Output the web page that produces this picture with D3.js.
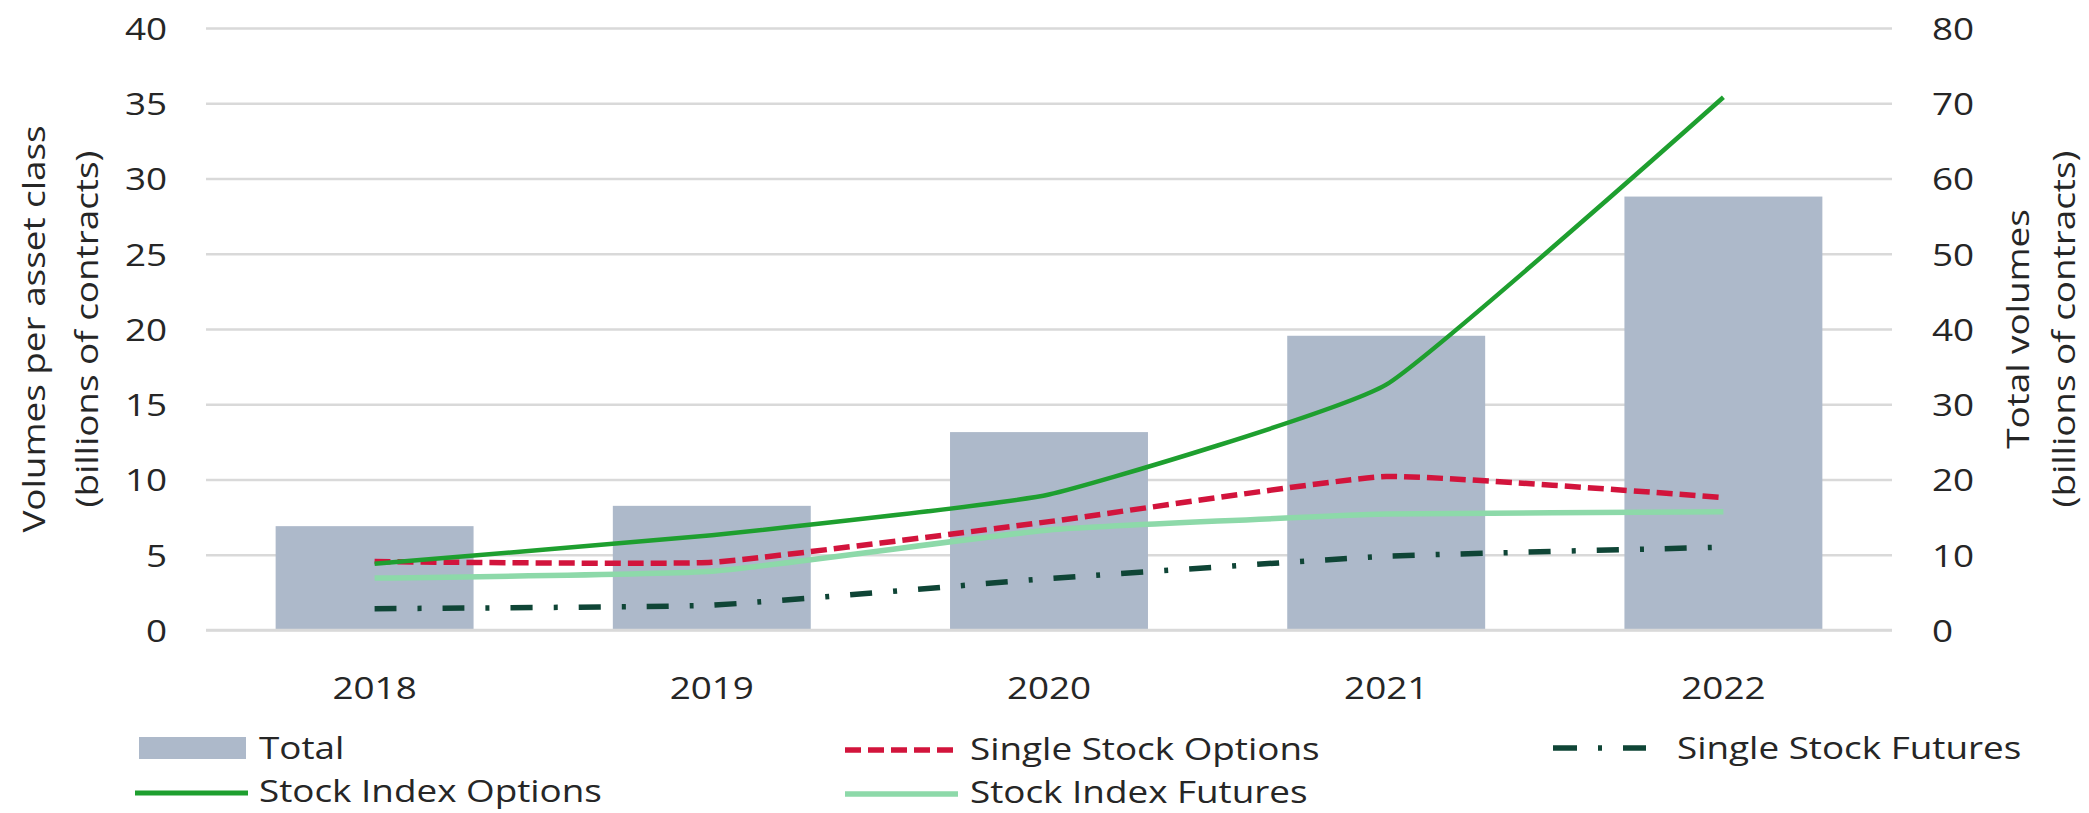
<!DOCTYPE html>
<html>
<head>
<meta charset="utf-8">
<script src="https://cdn.jsdelivr.net/npm/d3@7"></script>
<style>
  html, body { margin: 0; padding: 0; background: #fff; }
  svg text { font-family: "Open Sans", "Noto Sans", sans-serif; fill: #262626; }
</style>
</head>
<body>
<svg id="chart" width="2089" height="813"></svg>
<script>
// ---- data ----
const years = ["2018", "2019", "2020", "2021", "2022"];
const total = [13.8, 16.5, 26.3, 39.1, 57.6];
const singleStockOptions = [4.55, 4.5, 7.2, 10.2, 8.8];
const stockIndexOptions = [4.4, 6.3, 9.0, 16.3, 35.4];
const stockIndexFutures = [3.45, 3.9, 6.65, 7.7, 7.85];
const singleStockFutures = [1.42, 1.65, 3.42, 4.9, 5.5];
const leftTicks = [0, 5, 10, 15, 20, 25, 30, 35, 40];
const rightTicks = [0, 10, 20, 30, 40, 50, 60, 70, 80];
const leftTitle = ["Volumes per asset class", "(billions of contracts)"];
const rightTitle = ["Total volumes", "(billions of contracts)"];
const legendNames = ["Total", "Single Stock Options", "Single Stock Futures", "Stock Index Options", "Stock Index Futures"];

// ---- layout ----
const plot = { left: 206, right: 1892, top: 28, bottom: 630 };
const FS = 31.5;
const colors = {
  bar: "#ADB9CA",
  sio: "#1E9F2F",
  sso: "#D2143C",
  sif: "#8DD9A9",
  ssf: "#0F4536",
  grid: "#D9D9D9"
};

const svg = d3.select("#chart");

// measure horizontal stretch so text widths match the reference
const probe = svg.append("text").attr("font-size", FS).text("Stock Index Options");
const sx = 343 / probe.node().getComputedTextLength();
probe.remove();

const x = d3.scaleBand().domain(years).range([plot.left, plot.right])
  .paddingInner(0.413).paddingOuter(0.2065);
const yL = d3.scaleLinear().domain([0, 40]).range([plot.bottom, plot.top]);
const yR = d3.scaleLinear().domain([0, 80]).range([plot.bottom, plot.top]);
const cx = d => x(d) + x.bandwidth() / 2;

function stretchText(sel, anchor) {
  sel.each(function () {
    const t = d3.select(this);
    const tx = +t.attr("x") || 0;
    t.attr("x", 0).attr("dy", null).attr("y", 0.36 * FS)
      .attr("text-anchor", anchor)
      .attr("transform", `translate(${tx},0) scale(${sx},1)`);
  });
}

// gridlines + left axis
const gL = svg.append("g").attr("transform", `translate(${plot.left},0)`)
  .call(d3.axisLeft(yL).tickValues(leftTicks).tickSize(-(plot.right - plot.left)).tickPadding(39));
gL.select(".domain").remove();
gL.selectAll(".tick line").attr("stroke", colors.grid).attr("stroke-width", 2.5);
gL.selectAll(".tick text").attr("font-size", FS).call(stretchText, "end");

// right axis
const gR = svg.append("g").attr("transform", `translate(${plot.right},0)`)
  .call(d3.axisRight(yR).tickValues(rightTicks).tickSize(0).tickPadding(40));
gR.select(".domain").remove();
gR.selectAll(".tick text").attr("font-size", FS).call(stretchText, "start");

// bars (Total, right axis)
svg.append("g").selectAll("rect").data(years).join("rect")
  .attr("x", d => x(d))
  .attr("width", x.bandwidth())
  .attr("y", (d, i) => yR(total[i]))
  .attr("height", (d, i) => yR(0) - yR(total[i]))
  .attr("fill", colors.bar);

// zero gridline over bar bottoms
svg.append("line").attr("x1", plot.left).attr("x2", plot.right)
  .attr("y1", yL(0)).attr("y2", yL(0)).attr("stroke", colors.grid).attr("stroke-width", 2.5);

// bottom axis
const gB = svg.append("g").attr("transform", `translate(0,${plot.bottom})`)
  .call(d3.axisBottom(x).tickSize(0).tickPadding(0));
gB.select(".domain").remove();
gB.selectAll(".tick text").attr("font-size", FS)
  .each(function () {
    d3.select(this).attr("dy", null).attr("y", 58 + 0.36 * FS)
      .attr("text-anchor", "middle").attr("transform", `scale(${sx},1)`);
  });

// lines
const line = d3.line().x((d, i) => cx(years[i])).y(d => yL(d)).curve(d3.curveCardinal.tension(0.62));
const series = [
  { vals: stockIndexFutures, color: colors.sif, w: 5.5, dash: null },
  { vals: singleStockFutures, color: colors.ssf, w: 5.5, dash: "22,21,4,21" },
  { vals: singleStockOptions, color: colors.sso, w: 5.5, dash: "16,7" },
  { vals: stockIndexOptions, color: colors.sio, w: 4.5, dash: null }
];
svg.append("g").selectAll("path").data(series).join("path")
  .attr("d", s => line(s.vals))
  .attr("fill", "none")
  .attr("stroke", s => s.color)
  .attr("stroke-width", s => s.w)
  .attr("stroke-dasharray", s => s.dash);

// axis titles
function vTitle(lines, xs, yc) {
  lines.forEach((t, i) => {
    svg.append("text")
      .attr("font-size", FS)
      .attr("text-anchor", "middle")
      .attr("y", 0.36 * FS)
      .attr("transform", `translate(${xs[i]},${yc}) rotate(-90) scale(${sx},1)`)
      .text(t);
  });
}
vTitle(leftTitle, [34, 87], 329);
vTitle(rightTitle, [2018, 2064], 329);

// legend
const leg = svg.append("g");
function legText(t, x0, yc) {
  leg.append("text").attr("font-size", FS)
    .attr("transform", `translate(${x0},${yc + 0.36 * FS}) scale(${sx},1)`)
    .text(t);
}
leg.append("rect").attr("x", 139).attr("y", 737).attr("width", 107).attr("height", 22).attr("fill", colors.bar);
legText(legendNames[0], 259, 748);
leg.append("line").attr("x1", 845).attr("x2", 958).attr("y1", 750).attr("y2", 750)
  .attr("stroke", colors.sso).attr("stroke-width", 5.5).attr("stroke-dasharray", "16,7");
legText(legendNames[1], 970, 749);
leg.append("line").attr("x1", 1553).attr("x2", 1646).attr("y1", 748).attr("y2", 748)
  .attr("stroke", colors.ssf).attr("stroke-width", 5.5).attr("stroke-dasharray", "24,21,4,21");
legText(legendNames[2], 1677, 748);
leg.append("line").attr("x1", 135).attr("x2", 248).attr("y1", 793).attr("y2", 793)
  .attr("stroke", colors.sio).attr("stroke-width", 5);
legText(legendNames[3], 259, 791);
leg.append("line").attr("x1", 845).attr("x2", 958).attr("y1", 794).attr("y2", 794)
  .attr("stroke", colors.sif).attr("stroke-width", 5.5);
legText(legendNames[4], 970, 792);
</script>
</body>
</html>
